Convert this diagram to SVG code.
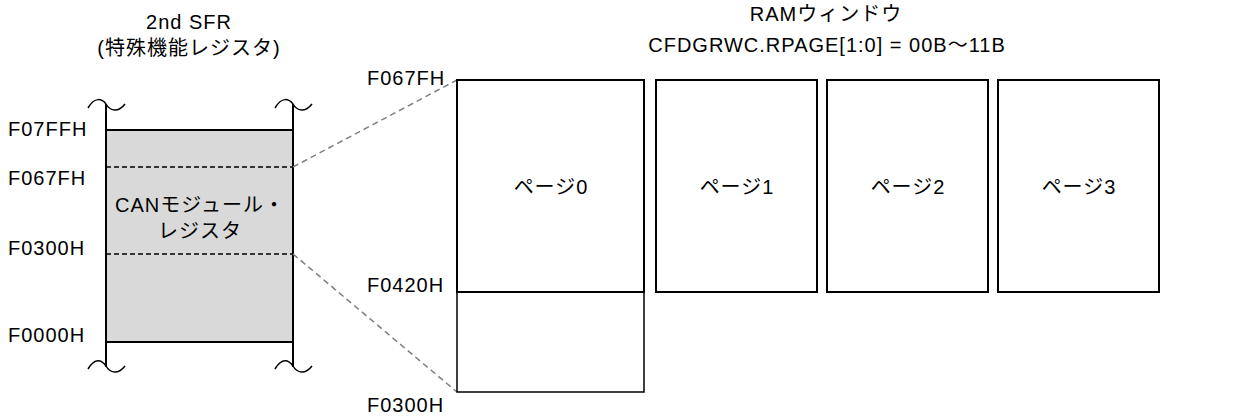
<svg xmlns="http://www.w3.org/2000/svg" width="1249" height="419" viewBox="0 0 1249 419">
<style>
text{font-family:"Liberation Sans","Noto Sans CJK JP",sans-serif;font-size:20px;fill:#000;letter-spacing:1px}
.c{text-anchor:middle}
.box{fill:#fff;stroke:#000;stroke-width:2}
.v{fill:none;stroke:#000;stroke-width:2}
.dash{stroke:#000;stroke-width:1.5;stroke-dasharray:5,3;fill:none}
.conn{stroke:#808080;stroke-width:1.5;stroke-dasharray:6,4;fill:none}
.w{fill:none;stroke:#000;stroke-width:1.5}
</style>
<g id="titles">
<text class="c" x="189" y="29">2nd SFR</text>
<text class="c" x="189" y="55">(特殊機能レジスタ)</text>
<text class="c" x="826" y="21">RAMウィンドウ</text>
<text class="c" x="827" y="52">CFDGRWC.RPAGE[1:0] = 00B～11B</text>
</g>
<g id="sfr">
<rect x="106" y="130" width="187" height="212" fill="#d9d9d9" stroke="#000" stroke-width="2"/>
<line class="v" x1="106" y1="104" x2="106" y2="367"/>
<line class="v" x1="293" y1="104" x2="293" y2="367"/>
<line class="dash" x1="106" y1="167" x2="293" y2="167"/>
<line class="dash" x1="106" y1="254" x2="293" y2="254"/>
<path class="w" d="M88 108 C95 96 102 99 106 104 C110 111 118 113 125 104"/>
<path class="w" d="M275 108 C282 96 289 99 293 104 C297 111 305 113 312 104"/>
<path class="w" d="M88 369 C95 357 102 360 106 366 C110 373 118 375 125 366"/>
<path class="w" d="M275 369 C282 357 289 360 293 366 C297 373 305 375 312 366"/>
<text class="c" x="200" y="212">CANモジュール・</text>
<text class="c" x="200" y="238">レジスタ</text>
</g>
<g id="sfr-labels">
<text x="8" y="136">F07FFH</text>
<text x="8" y="185">F067FH</text>
<text x="8" y="255">F0300H</text>
<text x="8" y="342">F0000H</text>
</g>
<g id="connectors">
<line class="conn" x1="293" y1="167" x2="457" y2="80"/>
<line class="conn" x1="293" y1="254" x2="457" y2="392"/>
</g>
<g id="page0">
<rect class="box" x="457" y="80" width="187" height="212"/>
<rect x="457" y="292" width="187" height="100" fill="#fff" stroke="#000" stroke-width="1.5"/>
<line x1="457" y1="292" x2="644" y2="292" stroke="#000" stroke-width="2"/>
<text class="c" x="551" y="194">ページ0</text>
</g>
<g id="page1">
<rect class="box" x="656" y="80" width="161" height="212"/>
<text class="c" x="737" y="194">ページ1</text>
</g>
<g id="page2">
<rect class="box" x="827" y="80" width="161" height="212"/>
<text class="c" x="908" y="194">ページ2</text>
</g>
<g id="page3">
<rect class="box" x="998" y="80" width="161" height="212"/>
<text class="c" x="1079" y="194">ページ3</text>
</g>
<g id="addr-labels">
<text x="367" y="85">F067FH</text>
<text x="367" y="292">F0420H</text>
<text x="367" y="412">F0300H</text>
</g>
</svg>
